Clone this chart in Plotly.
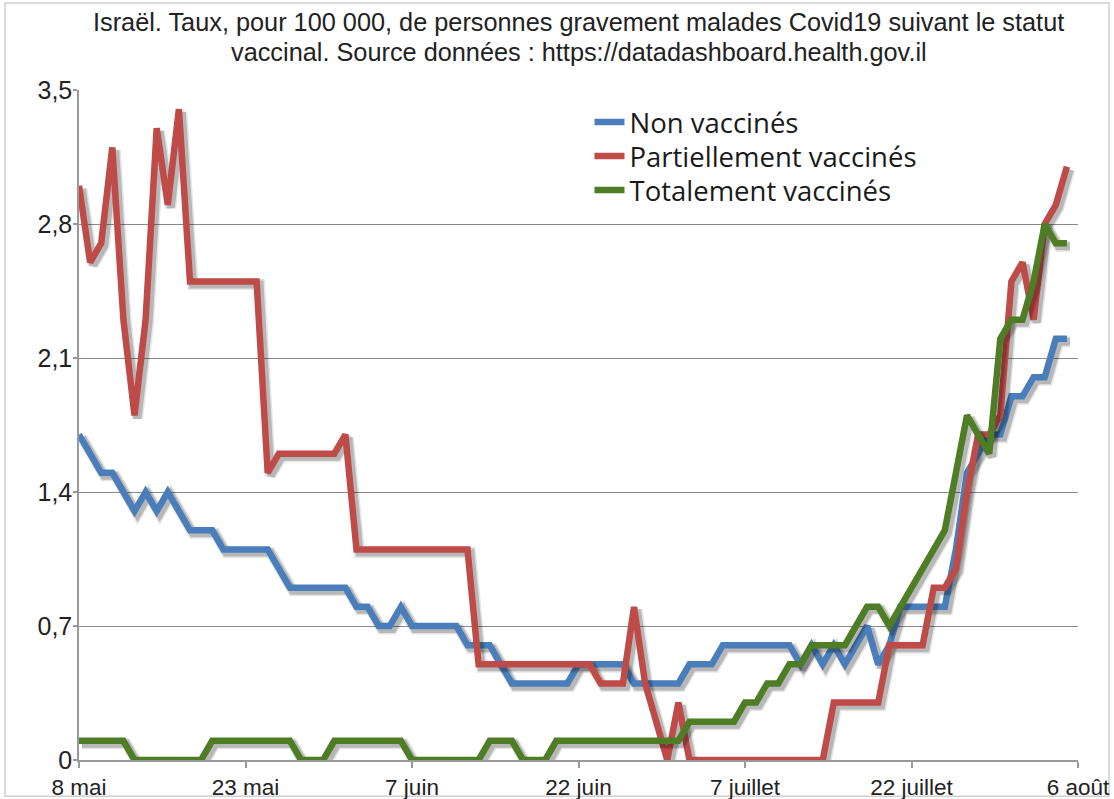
import datetime as dt
import plotly.graph_objects as go

start = dt.date(2021, 5, 8)

non_vaccines = [1.7, 1.6, 1.5, 1.5, 1.4, 1.3, 1.4, 1.3, 1.4, 1.3,
                1.2, 1.2, 1.2, 1.1, 1.1, 1.1, 1.1, 1.1, 1.0, 0.9,
                0.9, 0.9, 0.9, 0.9, 0.9, 0.8, 0.8, 0.7, 0.7, 0.8,
                0.7, 0.7, 0.7, 0.7, 0.7, 0.6, 0.6, 0.6, 0.5, 0.4,
                0.4, 0.4, 0.4, 0.4, 0.4, 0.5, 0.5, 0.5, 0.5, 0.5,
                0.4, 0.4, 0.4, 0.4, 0.4, 0.5, 0.5, 0.5, 0.6, 0.6,
                0.6, 0.6, 0.6, 0.6, 0.6, 0.5, 0.6, 0.5, 0.6, 0.5,
                0.6, 0.7, 0.5, 0.6, 0.8, 0.8, 0.8, 0.8, 0.8, 1.1,
                1.5, 1.6, 1.7, 1.7, 1.9, 1.9, 2.0, 2.0, 2.2, 2.2]

partiellement = [3.0, 2.6, 2.7, 3.2, 2.3, 1.8, 2.3, 3.3, 2.9, 3.4,
                 2.5, 2.5, 2.5, 2.5, 2.5, 2.5, 2.5, 1.5, 1.6, 1.6,
                 1.6, 1.6, 1.6, 1.6, 1.7, 1.1, 1.1, 1.1, 1.1, 1.1,
                 1.1, 1.1, 1.1, 1.1, 1.1, 1.1, 0.5, 0.5, 0.5, 0.5,
                 0.5, 0.5, 0.5, 0.5, 0.5, 0.5, 0.5, 0.4, 0.4, 0.4,
                 0.8, 0.4, 0.2, 0.0, 0.3, 0.0, 0.0, 0.0, 0.0, 0.0,
                 0.0, 0.0, 0.0, 0.0, 0.0, 0.0, 0.0, 0.0, 0.3, 0.3,
                 0.3, 0.3, 0.3, 0.6, 0.6, 0.6, 0.6, 0.9, 0.9, 1.0,
                 1.4, 1.7, 1.7, 1.8, 2.5, 2.6, 2.3, 2.8, 2.9, 3.1]

totalement = [0.1, 0.1, 0.1, 0.1, 0.1, 0.0, 0.0, 0.0, 0.0, 0.0,
              0.0, 0.0, 0.1, 0.1, 0.1, 0.1, 0.1, 0.1, 0.1, 0.1,
              0.0, 0.0, 0.0, 0.1, 0.1, 0.1, 0.1, 0.1, 0.1, 0.1,
              0.0, 0.0, 0.0, 0.0, 0.0, 0.0, 0.0, 0.1, 0.1, 0.1,
              0.0, 0.0, 0.0, 0.1, 0.1, 0.1, 0.1, 0.1, 0.1, 0.1,
              0.1, 0.1, 0.1, 0.1, 0.1, 0.2, 0.2, 0.2, 0.2, 0.2,
              0.3, 0.3, 0.4, 0.4, 0.5, 0.5, 0.6, 0.6, 0.6, 0.6,
              0.7, 0.8, 0.8, 0.7, 0.8, 0.9, 1.0, 1.1, 1.2, 1.5,
              1.8, 1.7, 1.6, 2.2, 2.3, 2.3, 2.5, 2.8, 2.7, 2.7]

dates = [start + dt.timedelta(days=i) for i in range(len(non_vaccines))]

tick_dates = ["2021-05-08", "2021-05-23", "2021-06-07", "2021-06-22",
              "2021-07-07", "2021-07-22", "2021-08-06"]
tick_labels = ["8 mai", "23 mai", "7 juin", "22 juin",
               "7 juillet", "22 juillet", "6 août"]
y_ticks = [0, 0.7, 1.4, 2.1, 2.8, 3.5]
y_labels = ["0", "0,7", "1,4", "2,1", "2,8", "3,5"]

title_lines = [
    "Israël. Taux, pour 100 000, de personnes gravement malades Covid19 suivant le statut",
    "vaccinal. Source données : https://datadashboard.health.gov.il",
]

series = [
    ("Non vaccinés", non_vaccines, "#4A7EBB"),
    ("Partiellement vaccinés", partiellement, "#BE4B48"),
    ("Totalement vaccinés", totalement, "#4E7D26"),
]

legend_ids = ["legend", "legend2", "legend3"]
legend_rows_px = [122, 156, 190]

fig = go.Figure()
for (name, vals, col), lid in zip(series, legend_ids):
    fig.add_trace(go.Scatter(x=dates, y=vals, name=name, mode="lines",
                             legend=lid,
                             line=dict(color=col, width=6.5)))

base_font = "Liberation Sans, Arial, sans-serif"
legend_font = dict(family="Open Sans, sans-serif", size=27.5, color="#1a1a1a")

layout_legends = {}
for lid, ypx in zip(legend_ids, legend_rows_px):
    layout_legends[lid] = dict(
        x=0.511, y=(760 - ypx) / 670, xanchor="left", yanchor="middle",
        font=legend_font, bgcolor="rgba(0,0,0,0)", itemwidth=30,
    )

fig.update_layout(
    width=1114, height=799,
    separators=", ",
    paper_bgcolor="white", plot_bgcolor="white",
    margin=dict(l=79, r=36, t=90, b=39, autoexpand=False),
    showlegend=True,
    **layout_legends,
)

for txt, ypx in zip(title_lines, [22, 52]):
    fig.add_annotation(text=txt, xref="paper", yref="paper",
                       x=0.5, y=(760 - ypx) / 670, xanchor="center", yanchor="middle",
                       showarrow=False,
                       font=dict(family=base_font, size=25.3, color="#222"))

fig.update_xaxes(
    type="date",
    range=["2021-05-08", "2021-08-06"],
    tickvals=tick_dates, ticktext=tick_labels,
    showgrid=False, showline=True, linecolor="#999", linewidth=1.5,
    ticks="outside", ticklen=6, tickcolor="#999", tickwidth=1.5,
    tickfont=dict(family=base_font, size=22.5, color="#222"),
    zeroline=False, automargin=False,
)
fig.update_yaxes(
    range=[0, 3.5],
    tickvals=y_ticks, ticktext=y_labels,
    showgrid=True, gridcolor="#8a8a8a", gridwidth=1.3,
    showline=True, linecolor="#999", linewidth=1.5,
    ticks="outside", ticklen=4, tickcolor="#999", tickwidth=1.5,
    ticklabelstandoff=-4,
    tickfont=dict(family=base_font, size=25, color="#222"),
    zeroline=False, automargin=False,
)

fig.add_shape(type="rect", xref="paper", yref="paper",
              x0=-0.074, x1=1.031, y0=-0.054, y1=1.13,
              line=dict(color="#d0d0d0", width=1.5), layer="below")

page_js = """
document.documentElement.style.margin = '0';
document.body.style.margin = '0';
document.body.style.padding = '0';
document.body.style.overflow = 'hidden';
var st = document.createElement('style');
st.innerHTML = '.modebar-container, .modebar { display: none !important; }';
document.head.appendChild(st);
(function addShadow(n){
  var paths = document.querySelectorAll('.scatterlayer .trace path.js-line');
  if(paths.length === 0){ if(n < 60) setTimeout(function(){addShadow(n+1);}, 50); return; }
  paths.forEach(function(p){
    if(p.getAttribute('data-shadowed')) return;
    p.setAttribute('data-shadowed', '1');
    var c1 = p.cloneNode(true);
    c1.removeAttribute('class');
    c1.style.stroke = 'rgba(0,0,0,0.10)';
    c1.style.strokeWidth = '11px';
    c1.style.fill = 'none';
    c1.setAttribute('transform', 'translate(3,3)');
    p.parentNode.insertBefore(c1, p);
    var c2 = p.cloneNode(true);
    c2.removeAttribute('class');
    c2.style.stroke = 'rgba(0,0,0,0.20)';
    c2.style.strokeWidth = '8px';
    c2.style.fill = 'none';
    c2.setAttribute('transform', 'translate(3,3)');
    p.parentNode.insertBefore(c2, p);
  });
})(0);
"""

fig.write_html("out.html", post_script=page_js)
